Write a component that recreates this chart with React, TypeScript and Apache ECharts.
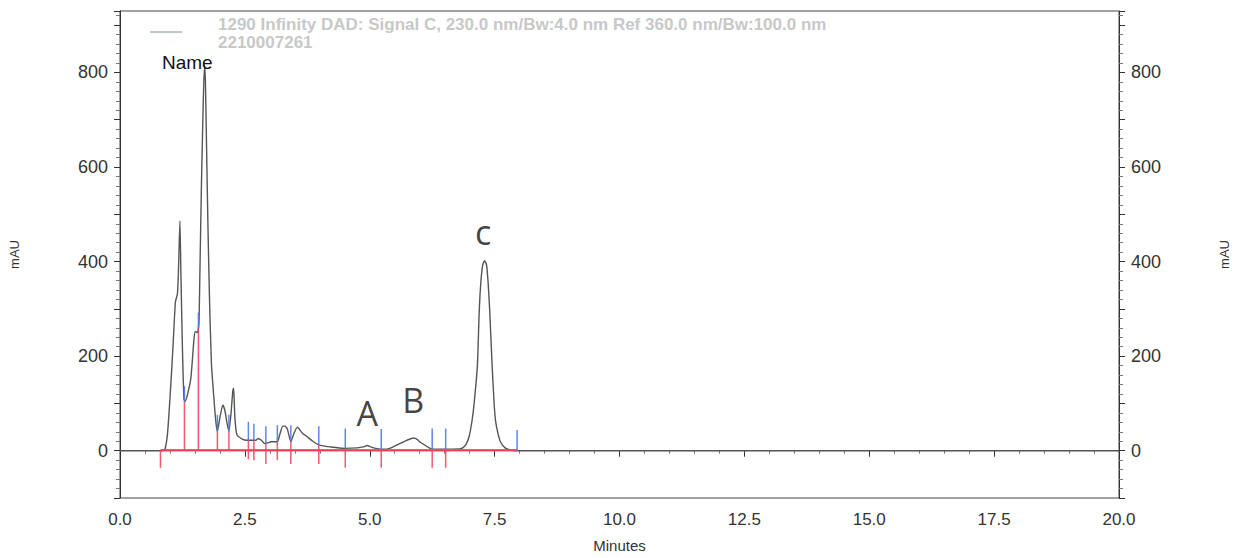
import React, { useEffect, useRef } from "react";
import * as echarts from "echarts";

// Chromatogram signal (minutes, mAU)
const signalTimes = [
  0, 0.85, 0.9, 0.95, 1.0, 1.04, 1.08, 1.11, 1.15, 1.17, 1.2, 1.22, 1.25, 1.28, 1.3, 1.35, 1.42,
  1.48, 1.51, 1.55, 1.58, 1.6, 1.63, 1.66, 1.69, 1.71, 1.73, 1.76, 1.79, 1.83, 1.88, 1.92, 1.95,
  2.0, 2.06, 2.1, 2.14, 2.18, 2.22, 2.26, 2.275, 2.3, 2.34, 2.44, 2.54, 2.64, 2.72, 2.77, 2.83,
  2.9, 2.97, 3.03, 3.15, 3.2, 3.26, 3.3, 3.35, 3.42, 3.48, 3.55, 3.6, 3.66, 3.73, 3.86, 3.99,
  4.22, 4.48, 4.75, 4.87, 4.95, 5.02, 5.12, 5.28, 5.4, 5.54, 5.74, 5.88, 5.95, 6.0, 6.13, 6.23,
  6.5, 6.8, 6.86, 6.93, 6.99, 7.05, 7.09, 7.155, 7.19, 7.22, 7.26, 7.3, 7.34, 7.37, 7.4, 7.45,
  7.49, 7.52, 7.57, 7.62, 7.71, 7.8, 7.95, 20,
];
const signalValues = [
  0, 0, 3, 35, 110, 180, 260, 315, 332, 380, 486, 370, 216, 110, 104, 118, 155,
  235, 252, 250, 270, 380, 560, 706, 815, 780, 660, 480, 330, 185, 111, 60, 41,
  70, 97, 85, 60, 41, 76, 128, 132, 70, 34, 25, 22, 22, 22, 26, 22,
  15, 17, 19, 19, 35, 52, 52, 46, 19, 36, 50, 44, 36, 31, 20, 12,
  8, 5, 6, 8, 11, 8, 5, 3, 5, 12, 22, 27, 24, 19, 10, 4,
  3, 4, 6, 14, 30, 65, 100, 180, 290, 350, 392, 402, 392, 355, 300, 180,
  100, 62, 35, 18, 6, 2, 0, 0,
];

// Integration events: time, level on curve, red drop end, blue tick end
const eventTimes = [0.81, 1.29, 1.57, 1.95, 2.18, 2.57, 2.68, 2.92, 3.15, 3.42, 3.98, 4.51, 5.23, 6.25, 6.52, 7.95];
const eventLevels = [0, 104, 258, 41, 41, 21, 22, 15, 19, 19, 12, 5, 3, 3, 3, 0];
const eventRedEnds = [-36, 0, 0, 0, 0, -18, -20, -28, -20, -28, -28, -36, -36, -36, -36, 0];
const eventBlueEnds = [0, 137, 292, 76, 76, 61, 57, 52, 54, 54, 52, 47, 46, 47, 47, 44];

// Integration baseline
const baselineTimes = [0.81, 7.95];
const baselineValues = [1, 1];

// Peak annotations
const peakNames = ["A", "B", "c"];
const peakTimes = [4.95, 5.87, 7.27];
const peakLabelLevels = [80, 108, 462];

const xTicks = [0, 2.5, 5, 7.5, 10, 12.5, 15, 17.5, 20];
const yLabelValues = [0, 200, 400, 600, 800];

const headerLine1 = "1290 Infinity DAD: Signal C, 230.0 nm/Bw:4.0 nm Ref 360.0 nm/Bw:100.0 nm";
const headerLine2 = "2210007261";
const nameLabel = "Name";

const RED = "rgba(245,70,95,0.9)";
const BLUE = "rgba(80,120,235,0.9)";
const AXIS = "#333";
const SANS = "'Liberation Sans', Arial, sans-serif";
const NARROW = "'Liberation Sans Narrow', 'Liberation Sans', Arial, sans-serif";

export default function App() {
  const ref = useRef<HTMLDivElement>(null);
  useEffect(() => {
    if (!ref.current) return;
    const chart = echarts.init(ref.current, null, { renderer: "svg" });

    const yLabel = (v: number) => (yLabelValues.includes(v) ? String(v) : "");
    const yAxisCommon = {
      type: "value",
      min: -100,
      max: 930,
      interval: 100,
      nameLocation: "middle",
      nameRotate: 90,
      nameGap: 99,
      nameTextStyle: { fontFamily: SANS, fontSize: 13, color: AXIS },
      axisLine: { show: true, lineStyle: { color: AXIS, width: 1 } },
      axisTick: { show: true, length: 6, lineStyle: { color: AXIS } },
      minorTick: { show: true, splitNumber: 5, length: 4, lineStyle: { color: "#777" } },
      splitLine: { show: false },
      axisLabel: { formatter: yLabel, fontFamily: SANS, fontSize: 18, color: AXIS, margin: 12 },
    };

    chart.setOption({
      animation: false,
      backgroundColor: "#fff",
      grid: { left: 120, right: 108, top: 11, bottom: 58, show: true, borderColor: "#444", borderWidth: 1 },
      xAxis: {
        type: "value",
        min: 0,
        max: 20,
        interval: 2.5,
        name: "Minutes",
        nameLocation: "middle",
        nameGap: 40,
        nameTextStyle: { fontFamily: NARROW, fontSize: 15, color: AXIS },
        axisLine: { show: true, lineStyle: { color: AXIS } },
        axisTick: { show: true, length: 6, lineStyle: { color: AXIS } },
        minorTick: { show: true, splitNumber: 5, length: 3, lineStyle: { color: "#777" } },
        splitLine: { show: false },
        axisLabel: {
          formatter: (v: number) => (xTicks.includes(v) ? v.toFixed(1) : ""),
          fontFamily: NARROW,
          fontSize: 17,
          color: AXIS,
          margin: 13,
        },
      },
      yAxis: [
        { ...yAxisCommon, position: "left", name: "mAU" },
        { ...yAxisCommon, position: "right", name: "mAU" },
      ],
      graphic: [
        { type: "line", shape: { x1: 150, y1: 32, x2: 182, y2: 32 }, style: { stroke: "#7f8f8f", lineWidth: 1 } },
        {
          type: "text",
          x: 218,
          y: 24,
          style: { text: headerLine1, fill: "#c8c8c8", font: `bold 17px ${NARROW}`, textVerticalAlign: "middle" },
        },
        {
          type: "text",
          x: 218,
          y: 42,
          style: { text: headerLine2, fill: "#c8c8c8", font: `bold 17px ${NARROW}`, textVerticalAlign: "middle" },
        },
        {
          type: "text",
          x: 162,
          y: 62,
          z: 10,
          style: { text: nameLabel, fill: "#111", font: `19px ${SANS}`, textVerticalAlign: "middle" },
        },
      ],
      series: [
        {
          type: "line",
          data: signalTimes.map((t, i) => [t, signalValues[i]]),
          showSymbol: false,
          smooth: 0.2,
          lineStyle: { color: "#555", width: 1.4 },
          z: 2,
        },
        {
          type: "line",
          data: baselineTimes.map((t, i) => [t, baselineValues[i]]),
          showSymbol: false,
          lineStyle: { color: RED, width: 2.4 },
          z: 3,
        },
        {
          type: "custom",
          data: eventTimes.map((t, i) => [t, eventLevels[i], eventRedEnds[i], eventBlueEnds[i]]),
          encode: { x: 0, y: 1 },
          z: 4,
          renderItem: (params: any, api: any) => {
            const t = api.value(0);
            const lv = api.value(1);
            const r = api.value(2);
            const b = api.value(3);
            const p0 = api.coord([t, lv]);
            const pr = api.coord([t, r]);
            const pb = api.coord([t, b]);
            const children: any[] = [];
            if (r !== lv)
              children.push({
                type: "line",
                shape: { x1: p0[0], y1: p0[1], x2: pr[0], y2: pr[1] },
                style: { stroke: RED, lineWidth: 1.5 },
              });
            if (b !== lv)
              children.push({
                type: "line",
                shape: { x1: p0[0], y1: p0[1], x2: pb[0], y2: pb[1] },
                style: { stroke: BLUE, lineWidth: 1.5 },
              });
            return { type: "group", children };
          },
        },
        {
          type: "scatter",
          symbolSize: 0,
          data: peakNames.map((n, i) => ({ name: n, value: [peakTimes[i], peakLabelLevels[i]] })),
          label: {
            show: true,
            position: "inside",
            formatter: (p: any) => p.name,
            fontFamily: "'Open Sans', 'Liberation Sans', sans-serif",
            fontSize: 34,
            color: "#111",
          },
          z: 5,
        },
      ],
    });
    return () => chart.dispose();
  }, []);
  return <div ref={ref} style={{ position: "fixed", left: 0, top: 0, width: 1239, height: 558 }} />;
}
